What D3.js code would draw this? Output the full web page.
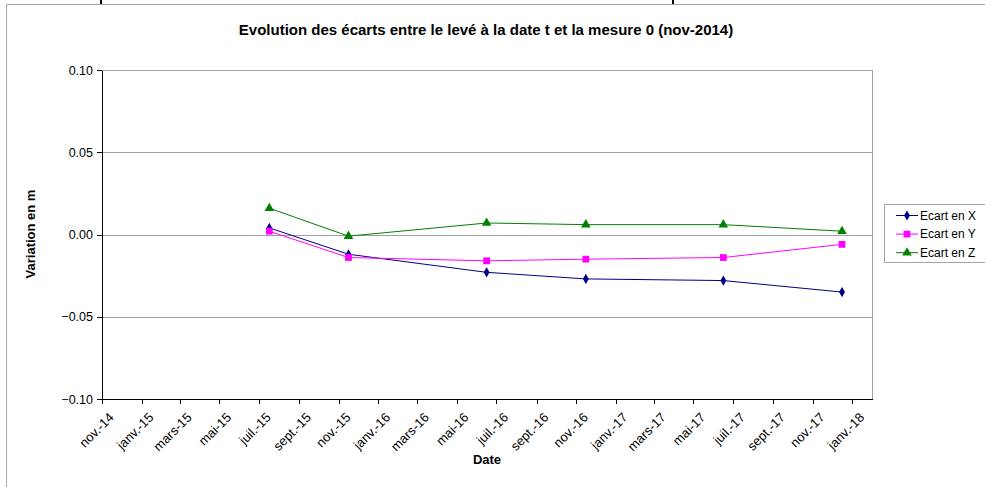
<!DOCTYPE html>
<html>
<head>
    <meta charset="utf-8">
    <title>ecarts</title>
    <script type="text/javascript" src="https://cdn.jsdelivr.net/npm/d3@7/dist/d3.min.js"></script>
    <style>
		body { margin:0; background:#fff; }
		.mytext { font-family: "Liberation Sans", Arial, sans-serif; fill:#000; }
		.grid line { stroke:#a0a0a0; stroke-width:1px; }
		.axis path, .axis line { stroke:#000; stroke-width:1px; shape-rendering:crispEdges; }
    </style>
</head>
<body>
	<div id="svg_div" class="svg_div"></div>
	<script type="text/javascript">
		var width = 985,
		height = 487,
		left = 102,
		right = 872.5,
		top_ = 70,
		bottom = 399
		;

		var dates = ['2015-07-17','2015-11-16','2016-06-16','2016-11-16','2017-06-16','2017-12-16'];
		var ecartX = [0.004,-0.012,-0.023,-0.027,-0.028,-0.035],
		ecartY = [0.002,-0.014,-0.016,-0.015,-0.014,-0.006],
		ecartZ = [0.016,-0.001,0.007,0.006,0.006,0.002]
		;
		var seriesNames = ['Ecart en X','Ecart en Y','Ecart en Z'],
		seriesColors = ['#000080','#ff00ff','#008000'],
		seriesShapes = [d3.symbolDiamond, d3.symbolSquare, d3.symbolTriangle],
		seriesSizes = [30, 46, 40]
		;
		var tickLabels = ['nov.-14','janv.-15','mars-15','mai-15','juil.-15','sept.-15','nov.-15','janv.-16','mars-16','mai-16','juil.-16','sept.-16','nov.-16','janv.-17','mars-17','mai-17','juil.-17','sept.-17','nov.-17','janv.-18'];
		var yTicks = [-0.10,-0.05,0.00,0.05,0.10];

		var parse = d3.utcParse('%Y-%m-%d');
		var series = [ecartX, ecartY, ecartZ].map(function(vals,k){
			return vals.map(function(v,i){return {date:parse(dates[i]), value:v, k:k}});
		});

		var x = d3.scaleUtc()
			.domain([parse('2014-11-01'), parse('2018-02-01')])
			.range([left, right]);
		var y = d3.scaleLinear()
			.domain([-0.10, 0.10])
			.range([bottom, top_]);

		var tickDates = d3.utcMonth.every(2).range(parse('2014-11-01'), parse('2018-01-02'));

		var svg = d3.select(".svg_div").append("svg")
            .attr("width", width)
            .attr("height", height);

		// chart frame
		svg.append("path")
			.attr("d","M6.5," + height + "V4.5H" + width)
			.attr("fill","none")
			.attr("stroke","#a6a6a6");
		svg.selectAll(".cellmark")
			.data([101, 673])
			.enter()
			.append("rect")
			.attr("x",function(d){return d - 1})
			.attr("y",0)
			.attr("width",2)
			.attr("height",4)
			.attr("fill","#000");

		svg.append("text")
			.attr("class","mytext")
			.attr("x",486)
			.attr("y",35)
			.attr("text-anchor","middle")
			.style("font-size","15px")
			.style("font-weight","bold")
			.text("Evolution des écarts entre le levé à la date t et la mesure 0 (nov-2014)");

		var grid = svg.append("g").attr("class","grid");
		grid.selectAll("line")
			.data(yTicks.slice(1))
			.enter()
			.append("line")
			.attr("x1",left)
			.attr("x2",right)
			.attr("y1",function(d){return Math.round(y(d)) + 0.5})
			.attr("y2",function(d){return Math.round(y(d)) + 0.5});
		grid.append("line")
			.attr("x1",right).attr("x2",right)
			.attr("y1",top_).attr("y2",bottom);

		svg.append("g")
			.attr("class","axis")
			.attr("transform","translate(" + left + ",0)")
			.call(d3.axisLeft(y).tickValues(yTicks).tickSize(5).tickPadding(4).tickFormat(d3.format(".2f")).tickSizeOuter(0))
			.selectAll("text")
			.attr("class","mytext")
			.style("font-size","12.5px");

		var xaxis = svg.append("g")
			.attr("class","axis")
			.attr("transform","translate(0," + bottom + ")")
			.call(d3.axisBottom(x).tickValues(tickDates).tickSize(5).tickSizeOuter(0).tickFormat(function(d,i){return tickLabels[i]}));
		xaxis.selectAll("text")
			.attr("class","mytext")
			.style("font-size","13px")
			.attr("text-anchor","end")
			.attr("dy","0.35em")
			.attr("y",0)
			.attr("transform","translate(9,16) rotate(-45)");

		svg.append("text")
			.attr("class","mytext")
			.attr("x",487)
			.attr("y",464)
			.attr("text-anchor","middle")
			.style("font-size","13px")
			.style("font-weight","bold")
			.text("Date");

		svg.append("text")
			.attr("class","mytext")
			.attr("transform","translate(35,234) rotate(-90)")
			.attr("text-anchor","middle")
			.style("font-size","13px")
			.style("font-weight","bold")
			.text("Variation en m");

		var line = d3.line()
			.x(function(d){return x(d.date)})
			.y(function(d){return y(d.value)});

		var sg = svg.selectAll(".serie")
			.data(series)
			.enter()
			.append("g")
			.attr("class","serie");
		sg.append("path")
			.attr("d",line)
			.attr("fill","none")
			.attr("stroke",function(d,k){return seriesColors[k]})
			.attr("stroke-width",1);
		sg.selectAll(".pt")
			.data(function(d){return d})
			.enter()
			.append("path")
			.attr("class","pt")
			.attr("d",function(d){return d3.symbol().type(seriesShapes[d.k]).size(seriesSizes[d.k])()})
			.attr("fill",function(d){return seriesColors[d.k]})
			.attr("transform",function(d){return "translate(" + x(d.date) + "," + y(d.value) + ")"});

		// legend
		var lg = svg.append("g").attr("class","legend");
		lg.append("rect")
			.attr("x",884.5)
			.attr("y",204.5)
			.attr("width",110)
			.attr("height",58)
			.attr("fill","#fff")
			.attr("stroke","#a6a6a6");
		var li = lg.selectAll(".li")
			.data(seriesNames)
			.enter()
			.append("g")
			.attr("class","li")
			.attr("transform",function(d,i){return "translate(0," + (215.5 + i * 18.6) + ")"});
		li.append("line")
			.attr("x1",896).attr("x2",918)
			.attr("stroke",function(d,i){return seriesColors[i]});
		li.append("path")
			.attr("d",function(d,i){return d3.symbol().type(seriesShapes[i]).size(seriesSizes[i])()})
			.attr("fill",function(d,i){return seriesColors[i]})
			.attr("transform","translate(907,0)");
		li.append("text")
			.attr("class","mytext")
			.attr("x",920)
			.attr("dy","0.35em")
			.style("font-size","12px")
			.text(function(d){return d});
    </script>
</body>
</html>
